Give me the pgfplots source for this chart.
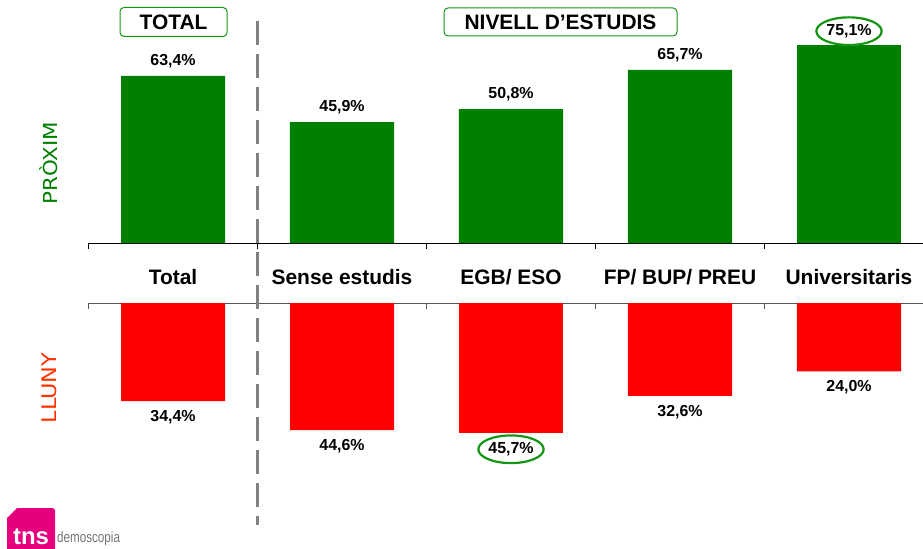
\documentclass[border=0pt]{standalone}
\usepackage{pgfplots}
\pgfplotsset{compat=1.18}
\usepackage{pgfplotstable}
\usepackage{fontspec}
\setmainfont{Liberation Sans}
\newfontfamily\labfont{DejaVu Sans}
\usetikzlibrary{shapes.geometric}
\definecolor{barGreen}{RGB}{0,128,0}
\definecolor{barRed}{RGB}{255,0,0}
\definecolor{ringGreen}{RGB}{20,150,20}
\definecolor{llunyRed}{RGB}{255,51,0}
\definecolor{tnsPink}{RGB}{230,0,126}

\pgfplotstableread{
x y lab
0 63.4 {63,4\%}
1 45.9 {45,9\%}
2 50.8 {50,8\%}
3 65.7 {65,7\%}
}\proxim
\pgfplotstableread{
x y lab
4 75.1 {75,1\%}
}\proximhl
\pgfplotstableread{
x y lab
0 -34.4 {34,4\%}
1 -44.6 {44,6\%}
3 -32.6 {32,6\%}
4 -24.0 {24,0\%}
}\lluny
\pgfplotstableread{
x y lab
2 -45.7 {45,7\%}
}\llunyhl

\begin{document}
\begin{tikzpicture}[x=1bp,y=1bp]
\useasboundingbox (0,0) rectangle (923,-549);
% top axis (PROXIM)
\begin{axis}[
  at={(88.5bp,-243bp)}, anchor=south west,
  scale only axis, width=834.5bp, height=243bp,
  xmin=-0.5, xmax=4.438, ymin=0, ymax=92.25,
  axis x line=bottom, axis y line=none,
  axis line style={-, black, line width=0.8bp},
  ybar, bar width=104bp, bar shift=0bp,
  xtick={0,1,2,3,4},
  xticklabels={Total, Sense estudis, EGB/ ESO, FP/ BUP/ PREU, Universitaris},
  xticklabel style={font=\fontsize{21}{23}\selectfont\bfseries, inner sep=0pt, anchor=north, yshift=-26bp},
  major tick length=0pt,
  extra x ticks={-0.5,0.5,1.5,2.5,3.5,4.5},
  extra x tick labels={},
  extra x tick style={major tick length=6bp, tick align=outside, tick style={black, line width=0.8bp}},
  point meta=explicit symbolic,
  nodes near coords,
  every node near coord/.append style={font=\fontsize{16}{18}\selectfont\bfseries, anchor=center, inner sep=0pt, yshift=15bp, text=black},
  clip=false,
]
\addplot[fill=barGreen, draw=none] table[x=x,y=y,meta=lab]{\proxim};
\addplot[fill=barGreen, draw=none,
  every node near coord/.append style={draw=ringGreen, line width=2.2bp, ellipse, inner xsep=0.5bp, inner ysep=3bp, yshift=-1bp}]
  table[x=x,y=y,meta=lab]{\proximhl};
\end{axis}
% bottom axis (LLUNY)
\begin{axis}[
  at={(88.5bp,-549bp)}, anchor=south west,
  scale only axis, width=834.5bp, height=246bp,
  xmin=-0.5, xmax=4.438, ymin=-86.3, ymax=0,
  axis x line=top, axis y line=none,
  axis line style={-, black!65, line width=1bp},
  ybar, bar width=104bp, bar shift=0bp,
  xtick={-0.5,0.5,1.5,2.5,3.5,4.5},
  xticklabels={},
  major tick length=6bp, tick align=inside,
  tick style={black!65, line width=1bp},
  point meta=explicit symbolic,
  nodes near coords,
  every node near coord/.append style={font=\fontsize{16}{18}\selectfont\bfseries, anchor=center, inner sep=0pt, yshift=-16bp, text=black},
  clip=false,
]
\addplot[fill=barRed, draw=none] table[x=x,y=y,meta=lab]{\lluny};
\addplot[fill=barRed, draw=none,
  every node near coord/.append style={draw=ringGreen, line width=2.2bp, ellipse, inner xsep=0.5bp, inner ysep=3bp, yshift=0bp}]
  table[x=x,y=y,meta=lab]{\llunyhl};
\end{axis}
% dashed separator
\draw[black!50, line width=3bp, dash pattern=on 24bp off 9bp] (257.5,-21) -- (257.5,-525);
% titles
\node[draw=ringGreen, line width=1bp, rounded corners=4bp, minimum width=107bp, minimum height=29bp, inner sep=0pt,
  font=\fontsize{21}{23}\selectfont\bfseries] at (173.5,-22) {TOTAL};
\node[draw=ringGreen, line width=1bp, rounded corners=4bp, minimum width=233bp, minimum height=28bp, inner sep=0pt,
  font=\fontsize{21}{23}\selectfont\bfseries] at (560.5,-22) {NIVELL D’ESTUDIS};
% side labels
\node[rotate=90, text=barGreen, font=\labfont\fontsize{21.5}{23}\selectfont, yscale=0.9] at (49,-163) {PRÒXIM};
\node[rotate=90, text=llunyRed, font=\labfont\fontsize{22.5}{24}\selectfont, yscale=0.9] at (49,-388) {LLUNY};
% logo
\fill[tnsPink] (7,-549) -- (7,-518) -- (17,-508) -- (53,-508) -- (55,-510) -- (55,-549) -- cycle;
\node[text=white, font=\fontsize{24}{25}\selectfont\bfseries, inner sep=0pt, anchor=base] at (31,-544) {tns};
\node[text=black!55, font=\fontsize{15}{16}\selectfont, inner sep=0pt, anchor=base west, xscale=0.78] at (57,-542) {demoscopia};
\end{tikzpicture}
\end{document}
